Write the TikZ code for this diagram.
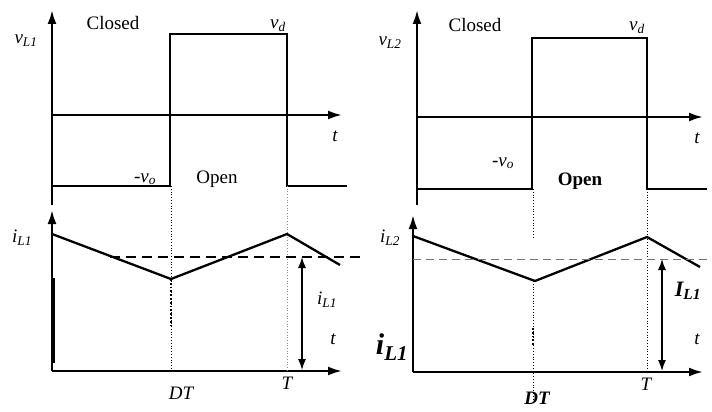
\documentclass[tikz,border=0pt]{standalone}
\usepackage{fontspec}
\setmainfont{Liberation Serif}
\usetikzlibrary{arrows.meta}
\tikzset{
axis/.style={line width=2.3pt,-{Latex[length=14pt,width=9pt]}},
wave/.style={line width=2.3pt,line join=miter},
guide/.style={line width=0.8pt,dotted},
faint/.style={line width=0.7pt,dotted,black!45},
span/.style={line width=1.3pt,{Latex[length=11pt,width=8pt]}-{Latex[length=11pt,width=8pt]}},
label/.style={font=\fontsize{19}{22}\selectfont,inner sep=0pt},
mathlabel/.style={font=\fontsize{19}{22}\selectfont\itshape,inner sep=0pt}
}
\newcommand{\sig}[2]{#1\textsubscript{#2}}

\begin{document}
\begin{tikzpicture}[x=1pt,y=-1pt]
\useasboundingbox (0,0) rectangle (712,412);

% left voltage
\coordinate (va1) at (52,205);
\coordinate (vt1) at (52,10);
\coordinate (vo1) at (52,115);
\coordinate (vx1) at (342,115);
\draw[axis] (va1) -- (vt1);
\draw[axis] (vo1) -- (vx1);
\draw[wave] (52,186) -- (170,186) -- (170,34) -- (287,34) -- (287,186) -- (347,186);
\node[mathlabel] (vl1) at (26,41) {\sig{v}{L1}};
\node[label] (cl1) at (113,23) {Closed};
\node[mathlabel] (vd1) at (278,26) {\sig{v}{d}};
\node[mathlabel] (t1) at (335,136) {t};
\node[mathlabel] (vn1) at (145,179) {-\sig{v}{o}};
\node[label] (op1) at (217,179) {Open};

% left current
\coordinate (ia1) at (52,371);
\coordinate (it1) at (52,210);
\coordinate (ix1) at (342,371);
\draw[axis] (ia1) -- (it1);
\draw[axis] (ia1) -- (ix1);
\draw[line width=3.6pt] (53,278) -- (53,363);
\draw[guide] (171,186) -- (171,371);
\draw[line width=1.8pt,dotted] (171,279) -- (171,326);
\draw[faint] (287,186) -- (287,371);
\draw[wave] (52,234) -- (171,279) -- (287,234) -- (340,265);
\draw[line width=2.3pt,dash pattern=on 10pt off 6pt] (110,257) -- (360,257);
\coordinate (ih1) at (302,257);
\coordinate (il1) at (302,370);
\draw[span] (ih1) -- (il1);
\node[mathlabel] (il1a) at (22,238) {\sig{i}{L1}};
\node[mathlabel] (il1b) at (327,300) {\sig{i}{L1}};
\node[mathlabel] (tc1) at (333,339) {t};
\node[mathlabel] (dt1) at (181,393) {DT};
\node[mathlabel] (tt1) at (287,383) {T};

% right voltage
\coordinate (va2) at (417,205);
\coordinate (vt2) at (417,10);
\coordinate (vo2) at (417,117);
\coordinate (vx2) at (703,117);
\draw[axis] (va2) -- (vt2);
\draw[axis] (vo2) -- (vx2);
\draw[wave] (417,189) -- (532,189) -- (532,38) -- (647,38) -- (647,189) -- (707,189);
\node[mathlabel] (vl2) at (390,43) {\sig{v}{L2}};
\node[label] (cl2) at (475,25) {Closed};
\node[mathlabel] (vd2) at (637,28) {\sig{v}{d}};
\node[mathlabel] (t2) at (697,138) {t};
\node[mathlabel] (vn2) at (503,163) {-\sig{v}{o}};
\node[label,font=\fontsize{19}{22}\selectfont\bfseries] (op2) at (580,181) {Open};

% right current
\coordinate (ia2) at (413,372);
\coordinate (it2) at (413,215);
\coordinate (ix2) at (703,372);
\draw[axis] (ia2) -- (it2);
\draw[axis] (ia2) -- (ix2);
\draw[guide] (533,189) -- (533,238);
\draw[guide] (533,281) -- (533,400);
\draw[line width=1.8pt,dotted] (533,328) -- (533,345);
\draw[guide] (647,189) -- (647,372);
\draw[wave] (413,236) -- (535,281) -- (647,237) -- (700,267);
\draw[line width=0.9pt,black!55,dash pattern=on 8pt off 5pt] (413,259) -- (712,259);
\coordinate (ih2) at (662,259);
\coordinate (il2) at (662,371);
\draw[span] (ih2) -- (il2);
\node[mathlabel] (il2a) at (390,238) {\sig{i}{L2}};
\node[mathlabel,font=\fontsize{30}{34}\selectfont\bfseries\itshape] (il2b) at (392,347) {\sig{i}{L1}};
\node[mathlabel,font=\fontsize{22}{26}\selectfont\bfseries\itshape] (il2c) at (688,291) {\sig{I}{L1}};
\node[mathlabel] (tc2) at (697,339) {t};
\node[mathlabel,font=\fontsize{19}{22}\selectfont\bfseries\itshape] (dt2) at (537,398) {DT};
\node[mathlabel] (tt2) at (646,384) {T};
\end{tikzpicture}
\end{document}
